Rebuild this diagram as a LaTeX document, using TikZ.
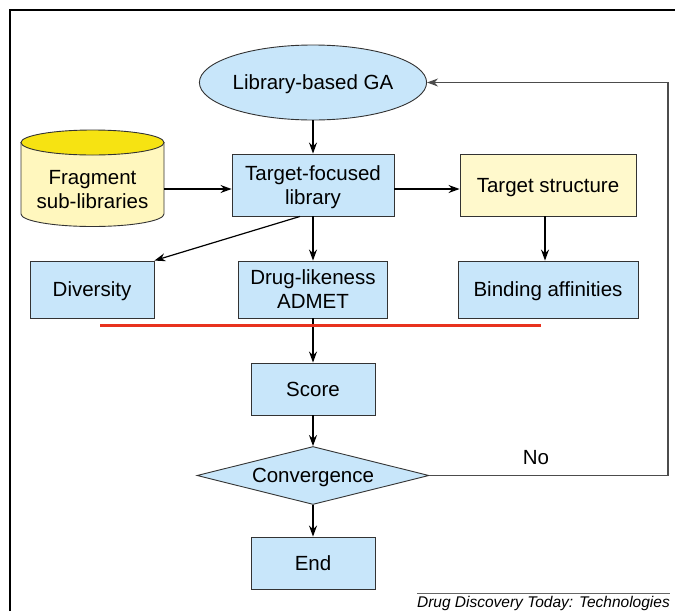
\documentclass[tikz,border=0pt]{standalone}
\usepackage{fontspec}
\setmainfont{Liberation Sans}
\usetikzlibrary{shapes.geometric,arrows.meta,calc}
\definecolor{boxblue}{RGB}{200,230,250}
\definecolor{structyellow}{RGB}{255,249,204}
\definecolor{cylbody}{RGB}{255,247,190}
\definecolor{cyltop}{RGB}{246,227,18}
\definecolor{cutred}{RGB}{232,50,30}
\begin{document}
\begin{tikzpicture}[%
                x=1pt, y=-1pt,
                mybox/.style={draw=black!80, line width=0.9pt, fill=boxblue, align=center, inner sep=0pt,
                    text depth=0pt, font=\fontsize{20.5}{24}\selectfont},
                myarrow/.style={-{Stealth[length=11pt,width=8pt]}, line width=1.2pt}
            ]
            \useasboundingbox (0,0) rectangle (675,611);
            \draw [line width=2pt] (10,611) -- (10,10) -- (675,10);
            % cylinder
            \filldraw [draw=black!80, line width=0.9pt, fill=cylbody] (21,142.5) -- (21,214)
                arc [start angle=180, end angle=360, x radius=71.5pt, y radius=12.5pt] -- (164,142.5) -- cycle;
            \filldraw [draw=black!80, line width=0.9pt, fill=cyltop] (92.5,142.5) ellipse [x radius=71.5pt, y radius=12.5pt];
            \node [align=center, text depth=0pt, font=\fontsize{20.5}{24}\selectfont, minimum width=143pt, minimum height=60pt]
                (frag) at (92.5,189) {Fragment\\sub-libraries};
            % boxes
            \node [mybox, ellipse, minimum width=199pt, minimum height=75pt] (ga) at (313,82.5) {Library-based GA};
            \node [mybox, minimum width=162pt, minimum height=62pt] (tfl) at (313,185) {Target-focused\\library};
            \node [mybox, fill=structyellow, minimum width=176pt, minimum height=62pt] (ts) at (548,185) {Target structure};
            \node [mybox, minimum width=124pt, minimum height=57pt] (div) at (92,289.5) {Diversity};
            \node [mybox, minimum width=149pt, minimum height=57pt] (drug) at (313,289.5) {Drug-likeness\\ADMET};
            \node [mybox, minimum width=180pt, minimum height=57pt] (bind) at (548,289.5) {Binding affinities};
            \node [mybox, minimum width=124pt, minimum height=52pt] (score) at (313,389) {Score};
            \node [mybox, diamond, aspect=3.9, minimum width=232pt, minimum height=58pt] (conv) at (313,475.5) {Convergence};
            \node [mybox, minimum width=124pt, minimum height=52pt] (end) at (313,563) {End};
            \node [font=\fontsize{20.5}{24}\selectfont] (no) at (536,458) {No};
            \coordinate (fbcorner) at (668,82.5);
            % connectors
            \draw [myarrow] (ga) -- (tfl);
            \draw [myarrow] (frag.east) -- (frag.east -| tfl.west);
            \draw [myarrow] (tfl.east |- frag.east) -- (ts.west |- frag.east);
            \draw [myarrow] ($(tfl.south)+(-13,0)$) -- (div.north east);
            \draw [myarrow] (tfl) -- (drug);
            \draw [myarrow] ($(ts.south)+(-3,0)$) -- ($(bind.north)+(-3,0)$);
            \draw [myarrow] (drug) -- (score);
            \draw [myarrow] (score) -- (conv);
            \draw [myarrow] (conv) -- (end);
            \draw [myarrow, draw=black!70] (conv.east) -| (fbcorner) -- (ga.east);
            \draw [cutred, line width=2.5pt] (100,325.5) -- (541,325.5);
            % caption
            \draw [black!60, line width=1pt] (417,593) -- (670,593);
            \node [anchor=base east, inner sep=0pt, font=\itshape\fontsize{15.5}{18}\selectfont]
                (caption) at (670,607) {Drug Discovery Today: Technologies};
        \end{tikzpicture}
\end{document}
